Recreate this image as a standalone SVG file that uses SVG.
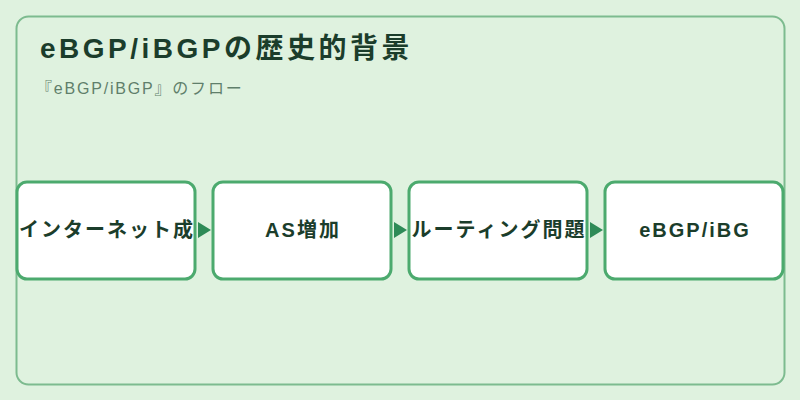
<svg xmlns="http://www.w3.org/2000/svg" width="800" height="400" viewBox="0 0 800 400">
<style>
.title{font-family:"Liberation Sans","Noto Sans CJK JP",sans-serif;font-weight:700;font-size:28px;letter-spacing:3.5px;fill:#1b3d2b}
.sub{font-family:"Liberation Sans","Noto Sans CJK JP",sans-serif;font-size:16px;letter-spacing:1.8px;fill:#5f7f6b}
.box{fill:#ffffff;stroke:#4caa6e;stroke-width:3}
.lbl{font-family:"Liberation Sans","Noto Sans CJK JP",sans-serif;font-weight:700;font-size:20px;letter-spacing:2px;fill:#1b3d2b;text-anchor:middle}
.arr{fill:#2e8b57}
</style>
<defs>
<clipPath id="c1"><rect x="17" y="182" width="178" height="97"/></clipPath>
<clipPath id="c2"><rect x="213" y="182" width="178" height="97"/></clipPath>
<clipPath id="c3"><rect x="409" y="182" width="178" height="97"/></clipPath>
<clipPath id="c4"><rect x="605" y="182" width="178" height="97"/></clipPath>
</defs>
<rect x="0" y="0" width="800" height="400" fill="#dff2df"/>
<rect x="16.5" y="16.5" width="768" height="368" rx="12" fill="#dff2df" stroke="#7dbb8f" stroke-width="2"/>
<text class="title" x="40" y="58">eBGP/iBGPの歴史的背景</text>
<text class="sub" x="36" y="94">『eBGP/iBGP』のフロー</text>
<g id="connectors">
<polygon class="arr" points="198,222 211,230 198,238"/>
<polygon class="arr" points="394,222 407,230 394,238"/>
<polygon class="arr" points="590,222 603,230 590,238"/>
</g>
<g id="node1">
<rect class="box" x="17" y="182" width="178" height="97" rx="10"/>
<text class="lbl" x="107" y="237" clip-path="url(#c1)">インターネット成</text>
</g>
<g id="node2">
<rect class="box" x="213" y="182" width="178" height="97" rx="10"/>
<text class="lbl" x="303" y="237" clip-path="url(#c2)">AS増加</text>
</g>
<g id="node3">
<rect class="box" x="409" y="182" width="178" height="97" rx="10"/>
<text class="lbl" x="499" y="237" clip-path="url(#c3)">ルーティング問題</text>
</g>
<g id="node4">
<rect class="box" x="605" y="182" width="178" height="97" rx="10"/>
<text class="lbl" x="695" y="237" clip-path="url(#c4)">eBGP/iBG</text>
</g>
</svg>
